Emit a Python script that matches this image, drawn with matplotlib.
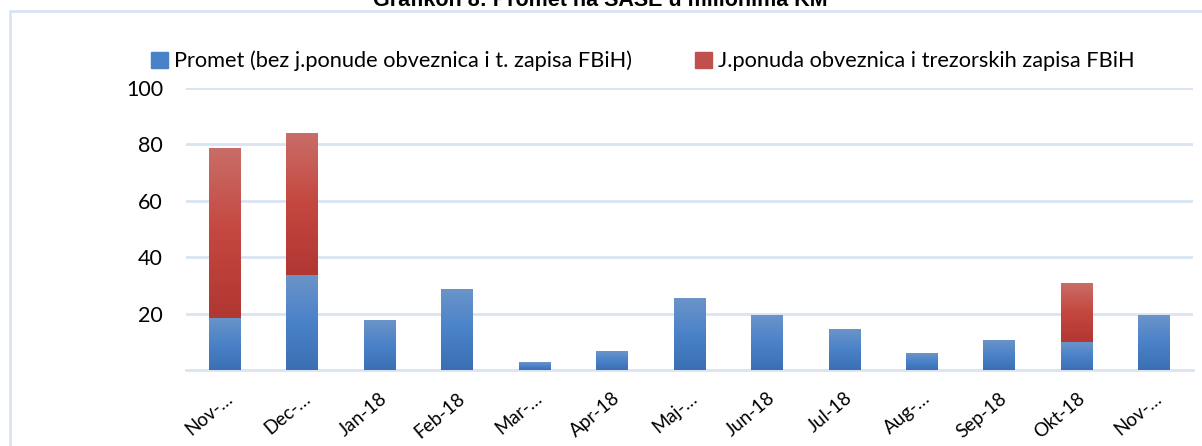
import matplotlib
matplotlib.use("Agg")
import matplotlib.pyplot as plt
import numpy as np
from matplotlib.patches import Rectangle
from matplotlib.colors import LinearSegmentedColormap

categories = ["Nov-…", "Dec-…", "Jan-18", "Feb-18", "Mar-…", "Apr-18", "Maj-…",
              "Jun-18", "Jul-18", "Aug-…", "Sep-18", "Okt-18", "Nov-…"]
promet = [18.5, 33.7, 17.7, 28.7, 2.8, 6.4, 25.5, 19.5, 14.5, 5.7, 10.4, 9.9, 19.5]
jponuda = [60.2, 50.3, 0, 0, 0, 0, 0, 0, 0, 0, 0, 20.6, 0]
yticks = [20, 40, 60, 80, 100]
series_names = ["Promet (bez j.ponude obveznica i t. zapisa FBiH)",
                "J.ponuda obveznica i trezorskih zapisa FBiH"]
title = "Grafikon 8: Promet na SASE u milionima KM"

plt.rcParams['font.family'] = ['Lato', 'DejaVu Sans']

W, H = 1202, 446
fig = plt.figure(figsize=(W / 100, H / 100), dpi=100)
ax = fig.add_axes([186 / W, 1 - 370 / H, (1193 - 186) / W, (370 - 88) / H])

x = np.arange(len(categories))
bw = 0.41
b1 = ax.bar(x, promet, bw, color="#4f81bd", label=series_names[0], zorder=3)
b2 = ax.bar(x, jponuda, bw, bottom=promet, color="#c0504d", label=series_names[1], zorder=3)

blue_cmap = LinearSegmentedColormap.from_list("b", ["#3b6fb3", "#4a82c8", "#6b94c9"])
red_cmap = LinearSegmentedColormap.from_list("r", ["#b13733", "#c4473f", "#c96d68"])
grad = np.linspace(0, 1, 256).reshape(-1, 1)
for bars, cmap in ((b1, blue_cmap), (b2, red_cmap)):
    for p in bars:
        h = p.get_height()
        if h <= 0:
            continue
        x0, y0, w = p.get_x(), p.get_y(), p.get_width()
        p.set_visible(False)
        ax.imshow(grad, cmap=cmap, origin="lower", aspect="auto",
                  extent=(x0, x0 + w, y0, y0 + h), zorder=3)

ax.set_xlim(-0.5, len(categories) - 0.5)
ax.set_ylim(0, 100)
ax.set_yticks(yticks)
ax.set_yticklabels([str(v) for v in yticks], fontsize=15.5)
ax.yaxis.grid(True, color="#d9e3f2", linewidth=2, zorder=0)
ax.set_axisbelow(True)
ax.tick_params(axis="y", length=0, pad=16.5)
ax.set_xticks(x)
ax.set_xticklabels(categories, rotation=40, ha="right", rotation_mode="anchor", fontsize=13.5)
ax.tick_params(axis="x", length=0, pad=14)
for s in ["top", "right", "left"]:
    ax.spines[s].set_visible(False)
ax.spines["bottom"].set_color("#d9e3f2")
ax.spines["bottom"].set_linewidth(2)

handles = [Rectangle((0, 0), 1, 1, color="#4a82c8"), Rectangle((0, 0), 1, 1, color="#c0504d")]
fig.legend(handles, series_names, loc="center", bbox_to_anchor=(643 / W, 1 - 61 / H),
           ncol=2, frameon=False, fontsize=15.7, handlelength=0.75, handleheight=0.75,
           handletextpad=0.3, columnspacing=2.9)

# chart border
fig.add_artist(Rectangle((10 / W, -0.1), 1.2, 1 - 11 / H + 0.1, transform=fig.transFigure,
                         fill=False, edgecolor="#d9e3f2", linewidth=2))
fig.text(600 / W, 1 - 6 / H, title, ha="center", va="baseline", fontsize=15.5, fontweight="bold",
         family=["Liberation Sans", "DejaVu Sans"])

fig.savefig("out.png", dpi=100)
